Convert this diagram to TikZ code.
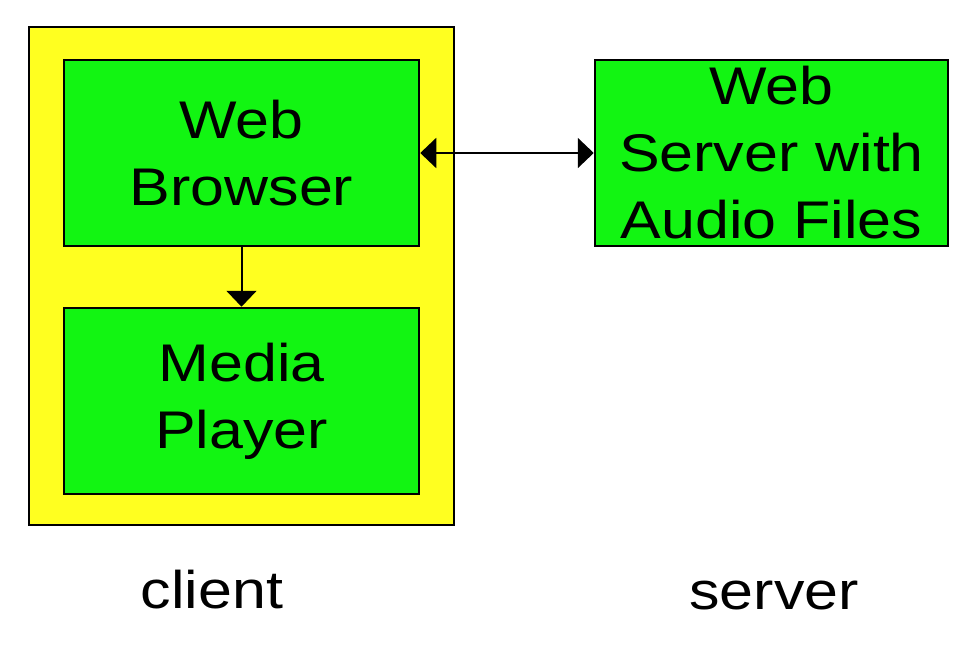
\documentclass[tikz,border=0pt]{standalone}
\usepackage{fontspec}
\setmainfont{Liberation Sans}[FakeStretch=1.15]
\usetikzlibrary{arrows.meta}
\definecolor{boxgreen}{RGB}{18,245,18}
\definecolor{boxyellow}{RGB}{255,255,32}
\tikzset{
  bigtext/.style={font=\fontsize{53}{67}\selectfont},
  greenbox/.style={draw=black, line width=2.5pt, fill=boxgreen, minimum width=355pt, minimum height=186pt, inner sep=0pt, align=center, bigtext},
  link/.style={line width=2pt, draw=black},
  bigtip/.tip={Triangle[length=16pt,width=30pt]}
}
\begin{document}
\begin{tikzpicture}[x=1pt,y=-1pt]
\useasboundingbox (0,0) rectangle (976,651);
\node[draw=black, line width=2.5pt, fill=boxyellow, minimum width=425pt, minimum height=498pt, inner sep=0pt] (client) at (241.5,276) {};
\node[greenbox] (browser) at (241.5,153) {Web\\Browser};
\node[greenbox] (media) at (241.5,401) {Media\\Player};
\node[greenbox, minimum width=353pt] (server) at (771.5,153) {Web\\Server with\\Audio Files};
\node[bigtext, anchor=base, inner sep=0pt] (clientlabel) at (212,608) {client};
\node[bigtext, anchor=base, inner sep=0pt] (serverlabel) at (774,609) {server};
\draw[link, bigtip-bigtip] (browser.east) -- (server.west);
\draw[link, -bigtip] (browser.south) -- (media.north);
\end{tikzpicture}
\end{document}
